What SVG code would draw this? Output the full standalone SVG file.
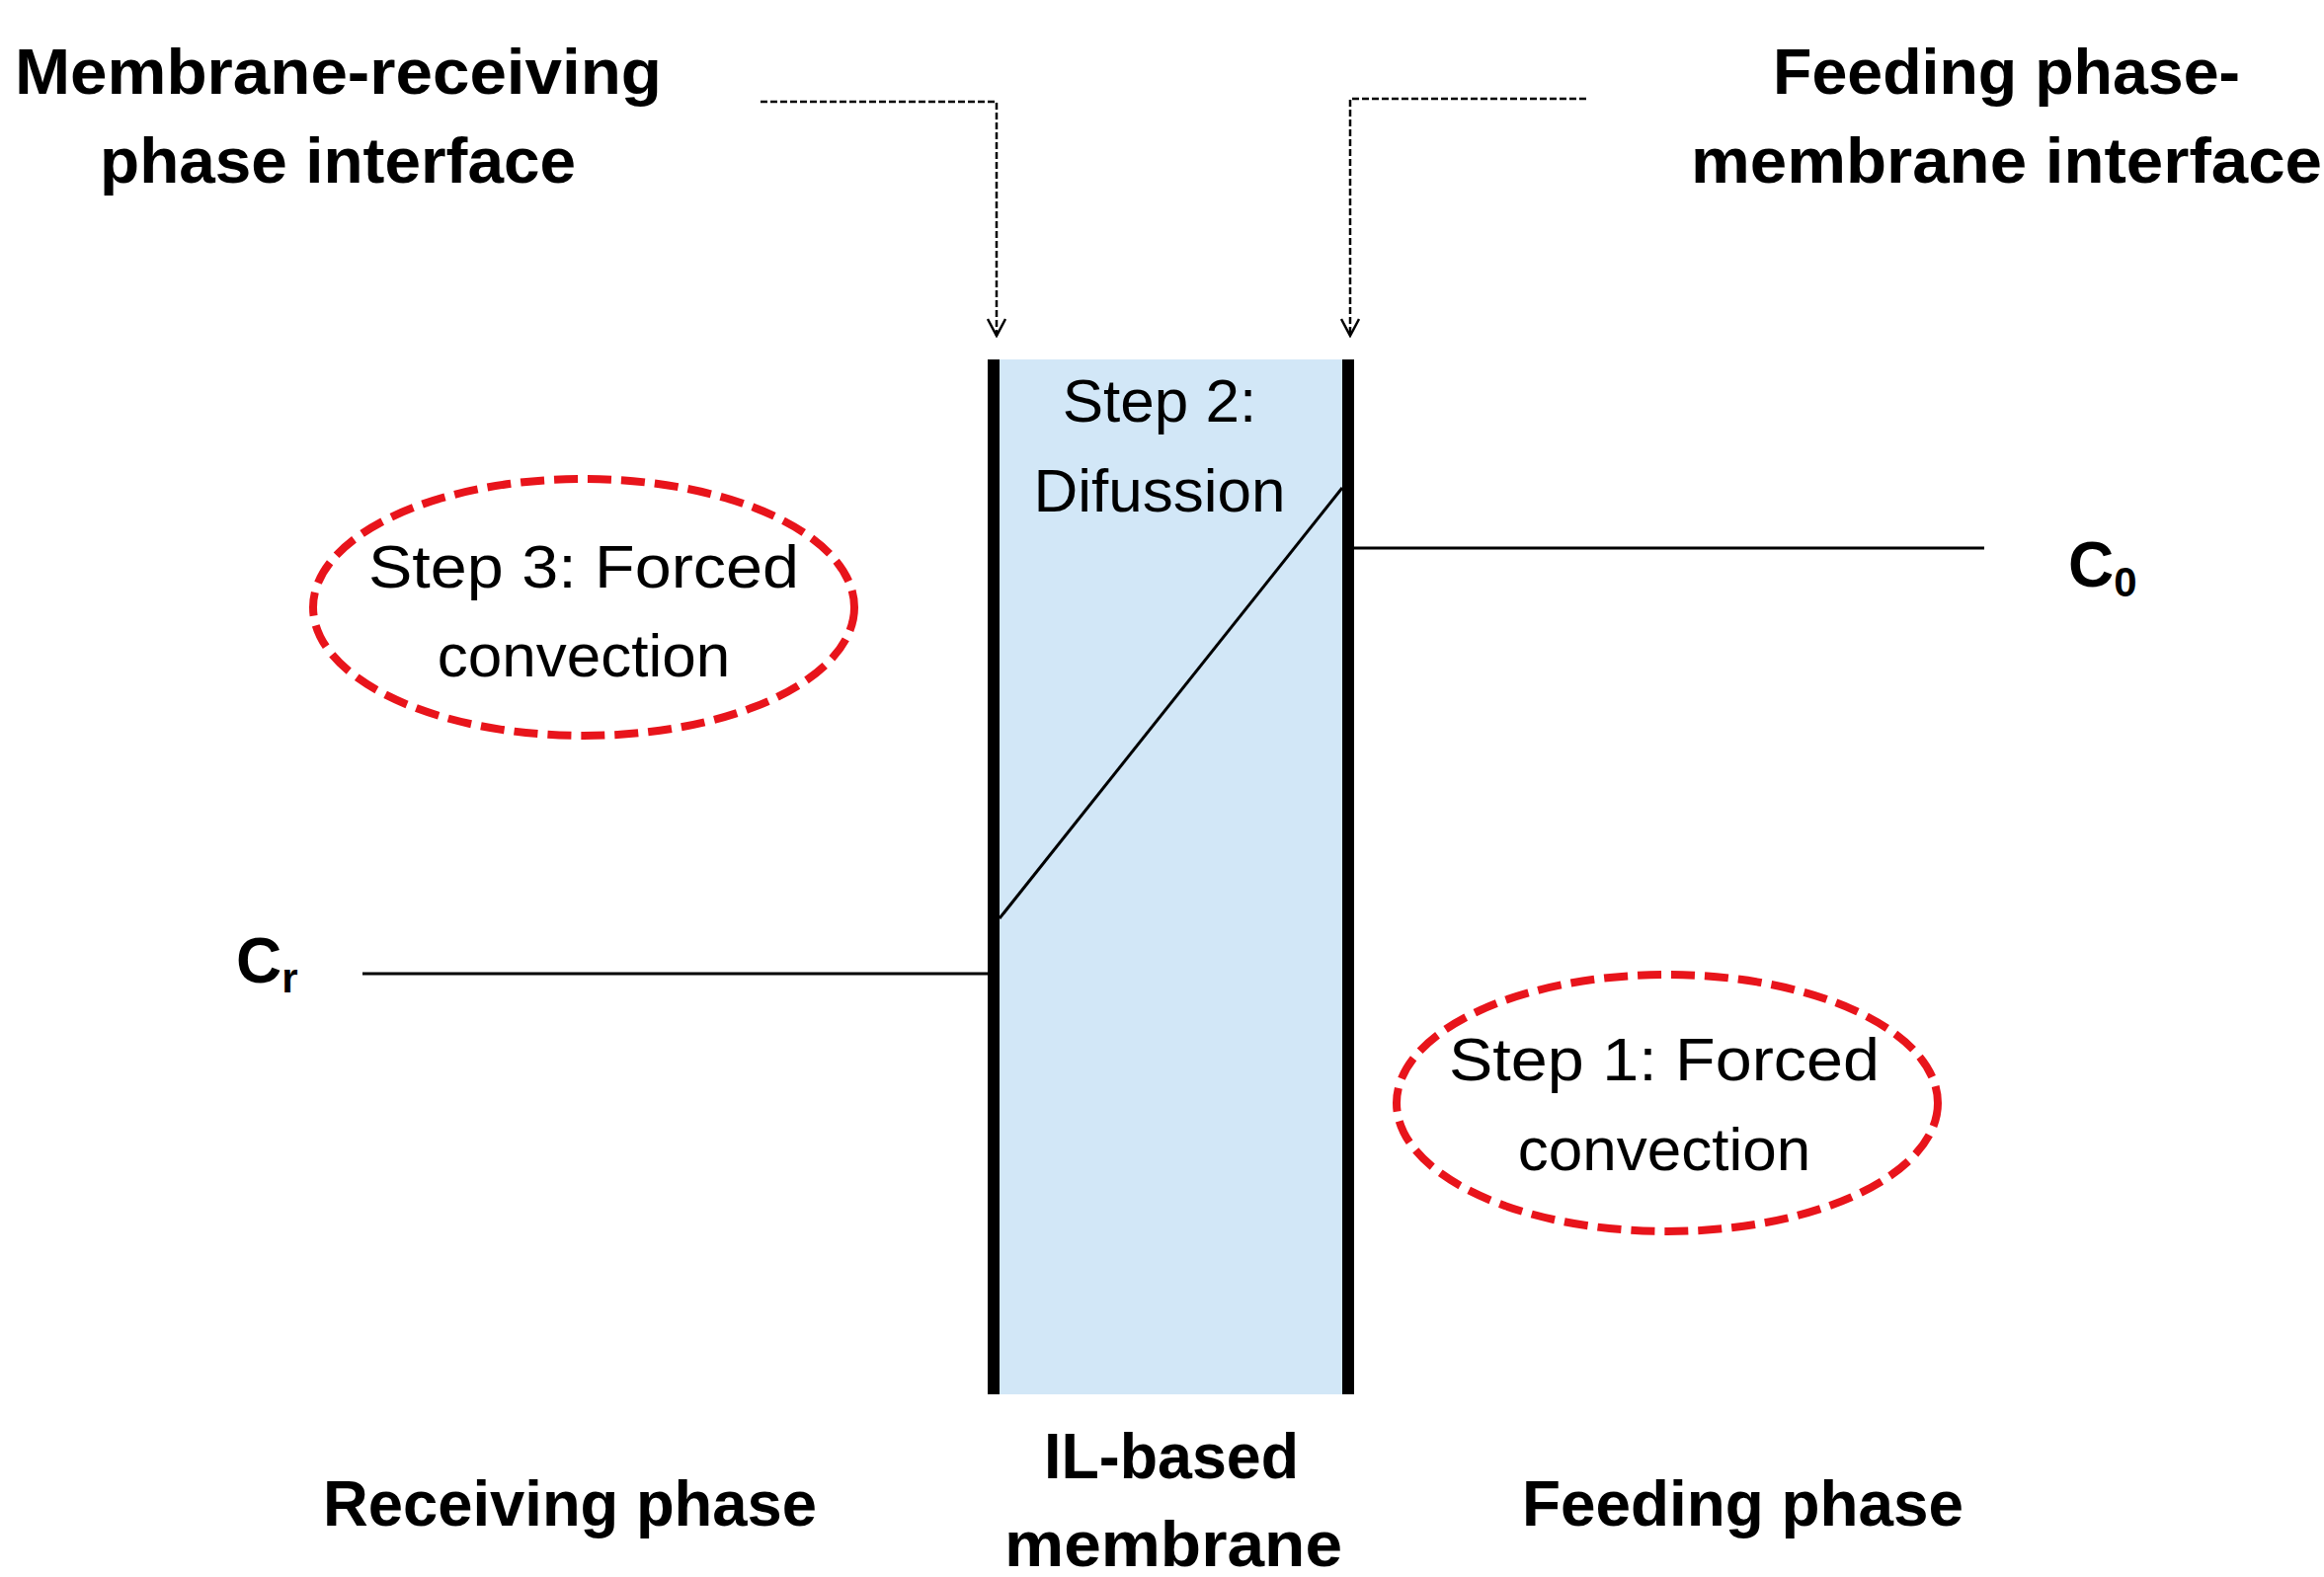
<svg xmlns="http://www.w3.org/2000/svg" width="2353" height="1597" viewBox="0 0 2353 1597">
<style>
.b{font-family:"Liberation Sans Narrow","Liberation Sans",Arial,sans-serif;font-weight:bold;font-size:64px;fill:#000}
.n{font-family:"Liberation Sans",Arial,sans-serif;font-size:62px;fill:#000}
.dash{fill:none;stroke:#000;stroke-width:2.5;stroke-dasharray:7,3}
.ell{fill:none;stroke:#e8141b;stroke-width:8;stroke-dasharray:24,10}
</style>
<defs>
<marker id="ah" markerWidth="20" markerHeight="20" refX="10" refY="18" orient="0" markerUnits="userSpaceOnUse">
<path d="M1,1 L10,18 L19,1" fill="none" stroke="#000" stroke-width="2.5"/>
</marker>
</defs>
<rect width="2353" height="1597" fill="#fff"/>
<g id="membrane">
<rect x="1006" y="364" width="359" height="1048" fill="#d2e7f7"/>
<line x1="1006" y1="364" x2="1006" y2="1412" stroke="#000" stroke-width="12"/>
<line x1="1365" y1="364" x2="1365" y2="1412" stroke="#000" stroke-width="12"/>
</g>
<g id="connectors">
<polyline class="dash" points="770,103 1009,103 1009,340" marker-end="url(#ah)"/>
<polyline class="dash" points="1606,100 1367,100 1367,340" marker-end="url(#ah)"/>
<line x1="1012" y1="930" x2="1359" y2="494" stroke="#000" stroke-width="3"/>
<line x1="1371" y1="555" x2="2009" y2="555" stroke="#000" stroke-width="3"/>
<line x1="367" y1="986" x2="1000" y2="986" stroke="#000" stroke-width="3"/>
</g>
<g id="labels">
<text class="b" x="15" y="95" textLength="655" lengthAdjust="spacingAndGlyphs">Membrane-receiving</text>
<text class="b" x="101" y="185" textLength="482" lengthAdjust="spacingAndGlyphs">phase interface</text>
<text class="b" x="1795" y="95" textLength="473" lengthAdjust="spacingAndGlyphs">Feeding phase-</text>
<text class="b" x="1712" y="185" textLength="639" lengthAdjust="spacingAndGlyphs">membrane interface</text>
<text class="b" x="327" y="1545" textLength="500" lengthAdjust="spacingAndGlyphs">Receiving phase</text>
<text class="b" x="1057" y="1497" textLength="258" lengthAdjust="spacingAndGlyphs">IL-based</text>
<text class="b" x="1017" y="1586" textLength="342" lengthAdjust="spacingAndGlyphs">membrane</text>
<text class="b" x="1541" y="1545" textLength="447" lengthAdjust="spacingAndGlyphs">Feeding phase</text>
<text class="b" x="2094" y="594">C<tspan font-size="42" dy="10">0</tspan></text>
<text class="b" x="239" y="995">C<tspan font-size="42" dy="10">r</tspan></text>
</g>
<g id="step2">
<text class="n" x="1174" y="427" text-anchor="middle">Step 2:</text>
<text class="n" x="1174" y="518" text-anchor="middle">Difussion</text>
</g>
<g id="step3">
<ellipse class="ell" cx="591" cy="615" rx="274" ry="130"/>
<text class="n" x="591" y="595" text-anchor="middle" textLength="436" lengthAdjust="spacingAndGlyphs">Step 3: Forced</text>
<text class="n" x="591" y="685" text-anchor="middle">convection</text>
</g>
<g id="step1">
<ellipse class="ell" cx="1688" cy="1117" rx="274" ry="130"/>
<text class="n" x="1685" y="1094" text-anchor="middle" textLength="436" lengthAdjust="spacingAndGlyphs">Step 1: Forced</text>
<text class="n" x="1685" y="1185" text-anchor="middle">convection</text>
</g>
</svg>
